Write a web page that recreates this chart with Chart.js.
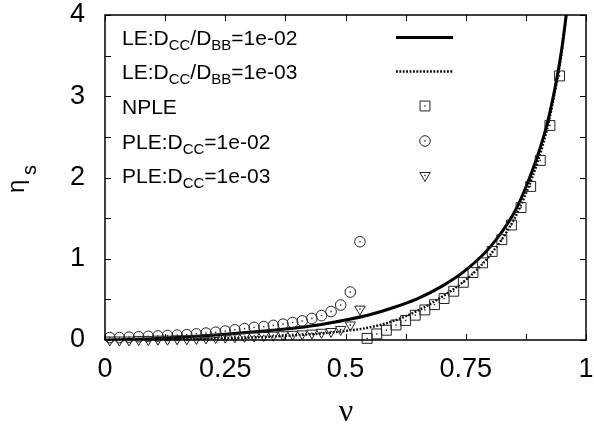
<!DOCTYPE html>
<html>
<head>
<meta charset="utf-8">
<script src="https://cdn.jsdelivr.net/npm/chart.js@4.4.1/dist/chart.umd.min.js"></script>
<style>
    html, body { margin: 0; padding: 0; background: #fff; }
    #wrap { width: 594px; height: 426px; }
</style>
</head>
<body>
<div id="wrap"><canvas id="myChart" width="594" height="426"></canvas></div>
<script>
// LE curves
const xLE = [0, 0.05, 0.1, 0.15, 0.2, 0.25, 0.3, 0.35, 0.4, 0.45, 0.5, 0.55, 0.6, 0.65, 0.7, 0.75, 0.8, 0.85, 0.875, 0.9, 0.92, 0.94, 0.95, 0.96];
const le2 = [0, 0.005, 0.015, 0.03, 0.05, 0.072, 0.095, 0.12, 0.15, 0.19, 0.245, 0.31, 0.4, 0.51, 0.66, 0.86, 1.14, 1.56, 1.88, 2.28, 2.68, 3.24, 3.6, 4.05];
const le3 = [0, 0.002, 0.005, 0.01, 0.015, 0.022, 0.03, 0.043, 0.06, 0.08, 0.112, 0.155, 0.235, 0.36, 0.53, 0.74, 1.04, 1.48, 1.8, 2.2, 2.62, 3.2, 3.56, 4.05];

// NPLE squares
const xNPLE = [0.545, 0.565, 0.585, 0.605, 0.625, 0.645, 0.665, 0.685, 0.705, 0.725, 0.745, 0.765, 0.785, 0.805, 0.825, 0.845, 0.865, 0.885, 0.905, 0.925, 0.945];
const nple = [0.02, 0.075, 0.12, 0.185, 0.24, 0.305, 0.37, 0.435, 0.51, 0.6, 0.71, 0.83, 0.95, 1.09, 1.235, 1.415, 1.63, 1.89, 2.21, 2.64, 3.25];

// PLE circles / triangles
const xPLE = [0.01, 0.03, 0.05, 0.07, 0.09, 0.11, 0.13, 0.15, 0.17, 0.19, 0.21, 0.23, 0.25, 0.27, 0.29, 0.31, 0.33, 0.35, 0.37, 0.39, 0.41, 0.43, 0.45, 0.47, 0.49, 0.51, 0.53];
const ple2 = [0.03, 0.03, 0.035, 0.04, 0.045, 0.05, 0.055, 0.06, 0.065, 0.075, 0.085, 0.095, 0.11, 0.125, 0.14, 0.155, 0.165, 0.18, 0.195, 0.215, 0.235, 0.265, 0.3, 0.35, 0.43, 0.59, 1.21];
const ple3 = [0, 0, 0, 0.005, 0.005, 0.01, 0.01, 0.015, 0.015, 0.02, 0.025, 0.03, 0.035, 0.04, 0.045, 0.05, 0.055, 0.06, 0.065, 0.07, 0.075, 0.085, 0.095, 0.105, 0.13, 0.185, 0.38];

const xTickLabels = ['0', '0.25', '0.5', '0.75', '1'];
const yTickLabels = ['0', '1', '2', '3', '4'];

// legend texts, [text, subscript?]
const legendLabels = [
    [['LE:D', false], ['CC', true], ['/D', false], ['BB', true], ['=1e-02', false]],
    [['LE:D', false], ['CC', true], ['/D', false], ['BB', true], ['=1e-03', false]],
    [['NPLE', false]],
    [['PLE:D', false], ['CC', true], ['=1e-02', false]],
    [['PLE:D', false], ['CC', true], ['=1e-03', false]]
];

const pts = (xs, ys) => xs.map((v, i) => ({ x: v, y: ys[i] }));
const SANS = '"Liberation Sans", Arial, sans-serif';

const marker = (style, r, rot) => ({
    showLine: false,
    pointStyle: style,
    pointRadius: r,
    pointRotation: rot || 0,
    pointBorderWidth: 1,
    pointBorderColor: '#222',
    pointBackgroundColor: 'rgba(0,0,0,0)',
    clip: false
});

const datasets = [
    Object.assign({ data: pts(xNPLE, nple) }, marker('rect', 7)),
    Object.assign({ data: pts(xPLE, ple2) }, marker('circle', 5.3)),
    Object.assign({ data: pts(xPLE, ple3) }, marker('triangle', 6, 180)),
    {
        data: pts(xLE, le3), showLine: true, pointRadius: 0,
        borderColor: '#000', borderWidth: 2.4, borderDash: [1.8, 1.6],
        cubicInterpolationMode: 'monotone'
    },
    {
        data: pts(xLE, le2), showLine: true, pointRadius: 0,
        borderColor: '#000', borderWidth: 3,
        cubicInterpolationMode: 'monotone'
    }
];

function drawRich(ctx, parts, x, base, size, subSize) {
    for (const [txt, sub] of parts) {
        ctx.font = (sub ? subSize : size) + 'px ' + SANS;
        ctx.fillText(txt, x, sub ? base + 5 : base);
        x += ctx.measureText(txt).width;
    }
}

const gnuplotDecor = {
    id: 'gnuplotDecor',
    afterDatasetsDraw(chart) {
        const { ctx, chartArea: a, scales: { x, y } } = chart;
        ctx.save();

        // center dots of the markers
        ctx.fillStyle = '#222';
        [0, 1, 2].forEach(i => {
            chart.getDatasetMeta(i).data.forEach(p => {
                ctx.fillRect(p.x - 0.7, p.y - 0.7, 1.4, 1.4);
            });
        });

        // frame + inward ticks
        ctx.strokeStyle = '#000';
        ctx.lineWidth = 1.5;
        ctx.strokeRect(a.left, a.top, a.right - a.left, a.bottom - a.top);
        ctx.lineWidth = 1;
        ctx.beginPath();
        x.ticks.forEach(t => {
            const px = Math.round(x.getPixelForValue(t.value)) + 0.5;
            ctx.moveTo(px, a.bottom); ctx.lineTo(px, a.bottom - 6);
            ctx.moveTo(px, a.top); ctx.lineTo(px, a.top + 6);
        });
        y.ticks.forEach(t => {
            const py = Math.round(y.getPixelForValue(t.value)) + 0.5;
            ctx.moveTo(a.left, py); ctx.lineTo(a.left + 6, py);
            ctx.moveTo(a.right, py); ctx.lineTo(a.right - 6, py);
        });
        ctx.stroke();

        // legend
        const rows = [37.5, 71.5, 106, 141, 175.5];
        ctx.fillStyle = '#000';
        ctx.textBaseline = 'alphabetic';
        ctx.textAlign = 'left';
        legendLabels.forEach((parts, i) => drawRich(ctx, parts, 122, rows[i] + 7.5, 21, 15));

        ctx.strokeStyle = '#000';
        ctx.lineWidth = 3;
        ctx.beginPath(); ctx.moveTo(396, rows[0]); ctx.lineTo(453, rows[0]); ctx.stroke();
        ctx.lineWidth = 2.4;
        ctx.setLineDash([1.8, 1.6]);
        ctx.beginPath(); ctx.moveTo(396, rows[1]); ctx.lineTo(453, rows[1]); ctx.stroke();
        ctx.setLineDash([]);

        [[2, 0], [3, 1], [4, 2]].forEach(([r, d]) => {
            const ds = chart.data.datasets[d];
            ctx.strokeStyle = '#222';
            ctx.fillStyle = 'rgba(0,0,0,0)';
            ctx.lineWidth = 1;
            Chart.helpers.drawPoint(ctx, {
                pointStyle: ds.pointStyle, radius: ds.pointRadius,
                rotation: ds.pointRotation, borderWidth: 1
            }, 425, rows[r]);
            ctx.fillStyle = '#222';
            ctx.fillRect(425 - 0.7, rows[r] - 0.7, 1.4, 1.4);
        });

        // axis titles
        ctx.fillStyle = '#000';
        ctx.font = '32px "Liberation Serif", serif';
        ctx.textAlign = 'center';
        ctx.fillText('ν', 346, 421);

        ctx.translate(24, 193);
        ctx.rotate(-Math.PI / 2);
        ctx.textAlign = 'left';
        ctx.font = '24px ' + SANS;
        ctx.fillText('η', 0, 0);
        ctx.font = '20px ' + SANS;
        ctx.fillText('s', 18, 12);

        ctx.restore();
    }
};

const ctx = document.getElementById('myChart').getContext('2d');
new Chart(ctx, {
    type: 'scatter',
    data: { datasets: datasets },
    options: {
        responsive: false,
        animation: false,
        events: [],
        layout: { padding: { top: 15, right: 6, left: 0, bottom: 0 } },
        plugins: { legend: { display: false }, tooltip: { enabled: false } },
        scales: {
            x: {
                type: 'linear', min: 0, max: 1,
                grid: { display: false, drawTicks: false },
                border: { display: false },
                ticks: {
                    stepSize: 0.125, autoSkip: false, maxRotation: 0, padding: 13,
                    color: '#000', font: { family: SANS, size: 27 },
                    callback: v => {
                        const k = Math.round(v / 0.25);
                        return Math.abs(v - k * 0.25) < 1e-9 ? xTickLabels[k] : '';
                    }
                },
                afterFit: s => { s.height = 86; s.paddingLeft = 0; s.paddingRight = 0; }
            },
            y: {
                type: 'linear', min: 0, max: 4,
                grid: { display: false, drawTicks: false },
                border: { display: false },
                ticks: {
                    stepSize: 0.5, autoSkip: false, padding: 20,
                    color: '#000', font: { family: SANS, size: 27 },
                    callback: v => Number.isInteger(v) ? yTickLabels[v] : ''
                },
                afterFit: s => { s.width = 105; s.paddingTop = 0; s.paddingBottom = 0; }
            }
        }
    },
    plugins: [gnuplotDecor]
});
</script>
</body>
</html>
